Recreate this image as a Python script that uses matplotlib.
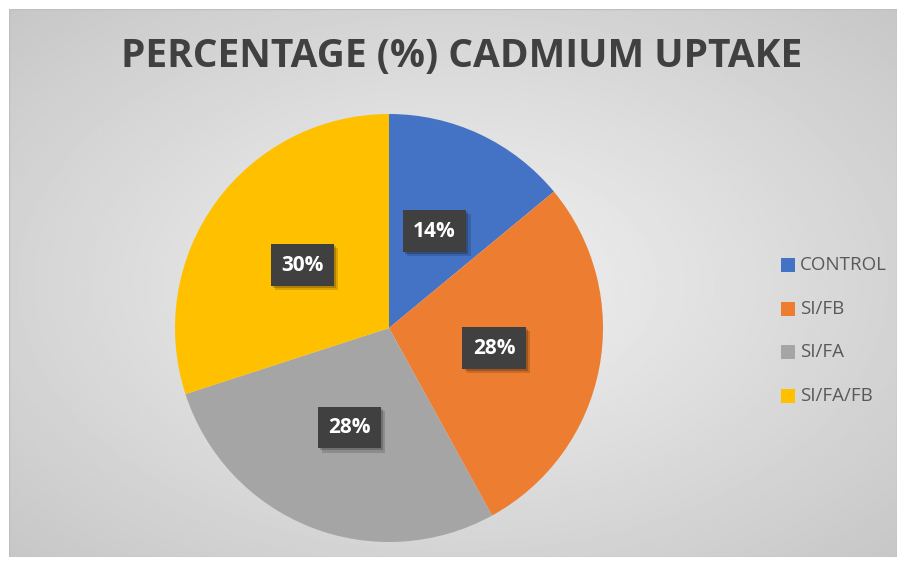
import numpy as np
import matplotlib
matplotlib.use("Agg")
import matplotlib.pyplot as plt
import matplotlib.patheffects as pe
from matplotlib.patches import Rectangle

# Data
categories = ["CONTROL", "SI/FB", "SI/FA", "SI/FA/FB"]
shares = [14, 28, 28, 30]
colors = ["#4472C4", "#ED7D31", "#A5A5A5", "#FFC000"]
title = "PERCENTAGE (%) CADMIUM UPTAKE"

W, H = 902, 565
fig = plt.figure(figsize=(W / 100, H / 100), dpi=100)
fig.patch.set_facecolor("white")

# chart area with radial grey gradient
x0, y0, x1, y1 = 9, 9, 897, 557
bg = fig.add_axes([x0 / W, 1 - y1 / H, (x1 - x0) / W, (y1 - y0) / H])
yy, xx = np.mgrid[-1:1:300j, -1:1:400j]
rr = np.sqrt(xx ** 2 + yy ** 2) / np.sqrt(2)
shade = 0.95 - 0.17 * rr
bg.imshow(shade, cmap="gray", vmin=0, vmax=1, aspect="auto",
          extent=[0, 1, 0, 1], interpolation="bilinear")
bg.add_patch(Rectangle((0, 0), 1, 1, fill=False, edgecolor="#BFBFBF",
                       linewidth=1, transform=bg.transAxes))
bg.set_axis_off()

# title
fig.text(462 / W, 1 - 56 / H, title, ha="center", va="center",
         fontsize=28, fontweight="bold", color="#404040", family="Open Sans")

# pie
cx, cy, r = 389, 328, 214
ax = fig.add_axes([(cx - r) / W, 1 - (cy + r) / H, 2 * r / W, 2 * r / H])
wedges, texts, autotexts = ax.pie(shares, colors=colors, startangle=90,
                                  counterclock=False, radius=1,
                                  autopct="%1.0f%%", pctdistance=0.5,
                                  wedgeprops=dict(linewidth=0))
ax.set_xlim(-1, 1)
ax.set_ylim(-1, 1)
ax.set_aspect("equal")
ax.set_axis_off()

for t in autotexts:
    t.set_color("white")
    t.set_fontsize(15)
    t.set_fontweight("bold")
    t.set_family("Open Sans")
    t.set_bbox(dict(boxstyle="square,pad=0.5", facecolor="#404040",
                    edgecolor="none"))
    t.get_bbox_patch().set_path_effects(
        [pe.SimplePatchShadow(offset=(3, -3), shadow_rgbFace="black", alpha=0.15),
         pe.SimplePatchShadow(offset=(1.5, -1.5), shadow_rgbFace="black", alpha=0.2),
         pe.Normal()])

# legend
leg_y = [265, 309, 352, 396]
for name, col, ly in zip(categories, colors, leg_y):
    fig.patches.append(Rectangle((781 / W, 1 - (ly + 7) / H), 14 / W, 14 / H,
                                 facecolor=col, edgecolor="none",
                                 transform=fig.transFigure, figure=fig))
    fig.text(800 / W, 1 - ly / H, name, ha="left", va="center",
             fontsize=13.5, color="#595959", family="Open Sans")

fig.savefig("out.png", dpi=100)
